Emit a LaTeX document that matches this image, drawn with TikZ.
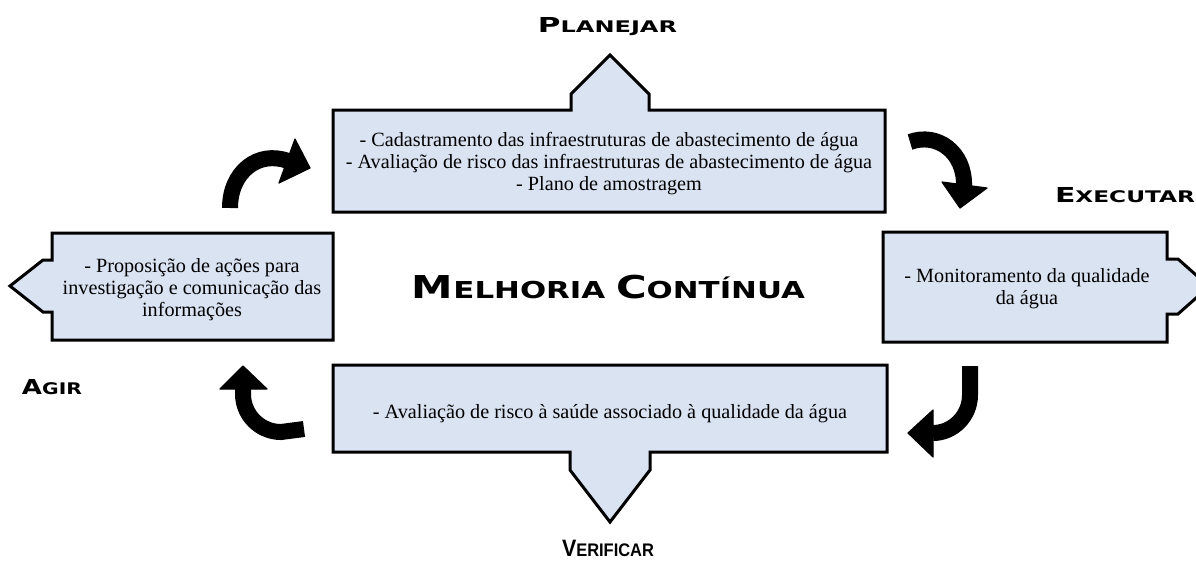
\documentclass[tikz,border=0pt]{standalone}
\usepackage{fontspec}
\usepackage{graphicx}
\setmainfont{Liberation Serif}
\newfontfamily\capfont{DejaVu Sans}
\newfontfamily\verfont{Liberation Sans}
\definecolor{boxblue}{RGB}{218,227,242}
\tikzset{
  pdcabox/.style={draw=black, line width=3pt, fill=boxblue, line join=miter},
  boxtext/.style={align=center, font=\fontsize{20.2}{22}\selectfont, inner sep=0pt},
  shaft/.style={line width=16pt, draw=black, line cap=butt},
  headtip/.style={fill=black, draw=black, line width=1.2pt, line join=round},
  phase/.style={anchor=base, inner sep=0pt, font=\capfont\bfseries},
}
\newcommand{\pcaps}[5]{\resizebox{#5}{\height}{{\fontsize{#3}{#3}\selectfont #1}{\fontsize{#4}{#4}\selectfont #2}}}
\begin{document}
\begin{tikzpicture}[x=1pt,y=-1pt]
\useasboundingbox (0,0) rectangle (1196,560);
\clip (0,0) rectangle (1196,560);

% boxes
\path[pdcabox] (333,110) -- (571,110) -- (571,94) -- (610,55) -- (649,94) -- (649,110) -- (885,110) -- (885,212) -- (333,212) -- cycle;
\path[pdcabox] (52,233) -- (333,233) -- (333,340) -- (52,340) -- (52,312) -- (43,312) -- (10,286) -- (43,260) -- (52,260) -- cycle;
\path[pdcabox] (883,232) -- (1167,232) -- (1167,259) -- (1178,259) -- (1209,286.5) -- (1178,314) -- (1167,314) -- (1167,342) -- (883,342) -- cycle;
\path[pdcabox] (333,365) -- (887,365) -- (887,452) -- (650,452) -- (650,470) -- (610,522) -- (570,470) -- (570,452) -- (333,452) -- cycle;

% box texts
\node[boxtext] (tplan) at (609,164) {- Cadastramento das infraestruturas de abastecimento de água\\- Avaliação de risco das infraestruturas de abastecimento de água\\- Plano de amostragem};
\node[boxtext] (tact) at (192,290) {- Proposição de ações para\\investigação e comunicação das\\informações};
\node[boxtext] (tdo) at (1027,289) {- Monitoramento da qualidade\\da água};
\node[boxtext] (tcheck) at (610,414) {- Avaliação de risco à saúde associado à qualidade da água};

% curved arrows
\draw[shaft] (230,208) .. controls (230,172) and (258,150) .. (288,161);
\path[headtip] (295,139) -- (310,168) -- (279,183) -- cycle;

\draw[shaft] (910,142) .. controls (937,132) and (965,152) .. (964,186);
\path[headtip] (942,182) -- (960,208) -- (987,188) -- cycle;

\draw[shaft] (970,366) -- (970,395) .. controls (970,416) and (953,433) .. (933,433);
\path[headtip] (933,410) -- (908,433) -- (933,457) -- cycle;

\draw[shaft] (304,429) -- (281,432) .. controls (260,432) and (243,415) .. (243,394) -- (243,388);
\path[headtip] (220,389) -- (243,366) -- (267,389) -- cycle;

% labels
\node[phase] (lplan) at (607.5,32) {\pcaps{P}{LANEJAR}{20.6}{16}{139pt}};
\node[phase] (lexec) at (1125,202) {\pcaps{E}{XECUTAR}{20.6}{16}{140pt}};
\node[phase] (lagir) at (52,394) {\pcaps{A}{GIR}{20.6}{16}{60pt}};
\node[phase,font=\verfont\bfseries] (lverif) at (608,556) {\pcaps{V}{ERIFICAR}{23.7}{18.2}{92pt}};
\node[phase] (ltitle) at (608.5,298) {\resizebox{393pt}{\height}{{\fontsize{31.5}{31.5}\selectfont M}{\fontsize{23.3}{23.3}\selectfont ELHORIA }{\fontsize{31.5}{31.5}\selectfont C}{\fontsize{23.3}{23.3}\selectfont ONTÍNUA}}};
\end{tikzpicture}
\end{document}
